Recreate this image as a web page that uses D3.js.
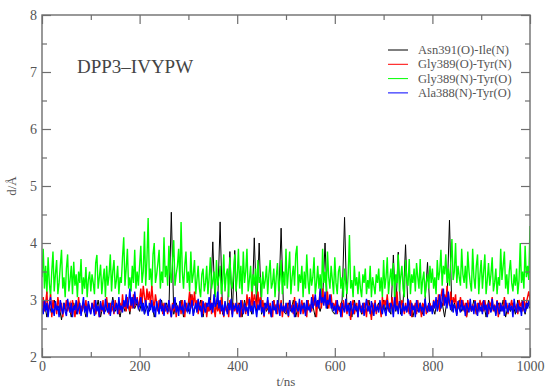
<!DOCTYPE html>
<html><head><meta charset="utf-8">
<script src="https://cdn.jsdelivr.net/npm/d3@7"></script>
<style>
html,body{margin:0;padding:0;background:#fff;}
svg{display:block;font-family:"Liberation Serif","Times New Roman",serif;}
</style></head>
<body>
<svg id="chart" width="546" height="388"></svg>
<script>
// time span (ns); each series is evenly sampled over it
const tSpan = [0, 1000];
const xTicks = [0, 200, 400, 600, 800, 1000];
const yTicks = [2, 3, 4, 5, 6, 7, 8];
const seriesNames = ["Asn391(O)-Ile(N)", "Gly389(O)-Tyr(N)", "Gly389(N)-Tyr(O)", "Ala388(N)-Tyr(O)"];
const seriesColors = ["#000000", "#ff0000", "#00ff00", "#0000ff"];

// every 5 ns
const asnIle = [
2.8,2.95,2.7,2.9,2.75,3.0,2.8,2.9,2.65,2.95,2.8,2.9,2.7,2.95,2.75,3.0,2.8,2.9,2.7,2.95,
2.8,2.9,2.75,3.0,2.7,2.9,2.8,2.95,2.75,3.05,2.8,2.9,2.7,2.95,2.8,3.0,2.75,3.05,2.85,2.95,
2.8,3.0,2.75,2.9,2.8,2.95,2.7,2.9,2.8,3.0,2.75,2.95,2.8,4.54,2.75,2.95,2.8,3.0,2.7,2.95,
2.8,3.1,2.75,2.9,2.8,3.0,2.7,2.95,2.8,2.9,4.02,2.8,2.95,4.37,2.75,2.9,2.8,3.85,2.75,3.87,
2.8,2.95,2.7,3.0,2.8,2.9,2.75,4.09,2.8,4.0,2.75,2.95,2.8,2.9,2.7,3.0,2.8,2.95,4.26,2.8,
2.75,2.95,2.8,3.0,2.7,2.9,2.8,2.95,2.75,3.0,2.8,2.9,2.7,2.95,2.8,3.0,4.0,2.85,3.05,2.8,
2.75,2.95,2.8,3.0,4.45,2.8,2.95,2.7,3.0,2.8,2.9,2.75,2.95,2.8,3.0,2.7,2.9,2.8,2.95,2.75,
3.0,2.8,2.9,2.75,3.79,2.8,3.84,2.75,2.95,3.97,2.8,3.0,2.7,2.9,2.8,2.95,2.75,3.0,3.66,2.8,
2.9,2.75,3.0,2.8,2.95,2.7,3.0,4.4,2.8,2.95,2.75,3.0,2.8,2.9,2.7,2.95,2.8,3.0,2.75,2.9,
2.8,2.95,2.7,3.0,2.8,2.9,2.75,2.95,2.8,3.0,2.7,2.9,2.8,2.95,2.75,3.0,2.8,2.9,2.75,2.95,
2.85];

// every 2.5 ns
const glyOTyrN = [
2.85,3.05,2.8,2.95,3.15,2.75,2.9,3.1,2.7,3.0,2.85,2.95,2.75,3.05,2.9,2.8,2.95,2.7,2.9,2.85,
3.0,2.8,2.9,2.95,2.75,3.0,2.85,2.7,2.9,2.8,3.05,2.75,2.9,2.8,2.95,2.85,3.0,2.75,2.9,2.85,
2.8,2.95,2.85,3.0,2.75,2.9,2.85,2.7,2.95,2.8,3.0,2.75,2.9,3.05,2.85,2.75,2.95,2.8,2.9,2.75,
3.0,2.85,2.9,2.75,2.95,2.8,3.1,2.85,2.95,2.8,3.05,2.9,2.8,3.0,2.85,3.1,2.9,2.95,3.05,2.85,
3.0,3.2,2.95,3.25,3.05,2.9,3.2,3.0,3.15,2.9,3.25,3.0,2.85,3.1,2.95,2.8,3.0,2.85,2.95,2.75,
2.95,2.8,2.9,2.75,3.0,2.85,2.7,2.95,2.8,3.0,2.7,2.9,2.8,2.95,2.75,3.0,2.85,2.7,2.95,2.8,
2.95,3.15,2.85,3.1,2.9,3.15,2.85,3.0,2.75,2.95,2.8,3.0,2.75,2.9,2.95,2.7,2.9,2.8,3.0,2.75,
2.95,2.85,2.7,3.0,2.8,2.9,2.75,3.05,2.85,2.7,2.95,2.8,2.9,2.7,3.0,2.85,2.75,2.95,2.8,2.9,
2.75,2.95,2.85,2.7,3.0,2.8,2.9,2.75,3.1,2.9,3.05,2.8,3.15,2.9,3.1,3.0,2.85,3.15,2.9,3.05,
2.8,3.0,2.7,2.9,2.85,3.0,2.75,2.95,2.8,2.7,3.0,2.85,2.9,2.75,2.95,2.8,3.0,2.7,2.9,2.85,
2.8,2.95,2.7,3.0,2.85,2.9,2.75,3.05,2.8,2.95,2.7,2.9,2.85,3.0,2.75,2.95,2.8,2.7,3.0,2.85,
2.9,2.8,3.1,2.9,3.05,2.7,3.0,2.95,3.15,2.85,3.2,2.95,3.05,2.9,3.15,2.85,3.0,3.1,2.85,2.95,
2.85,3.0,2.75,2.9,2.8,2.95,2.7,3.0,2.85,2.9,2.75,2.95,2.8,2.65,2.9,3.0,2.75,2.85,2.95,2.7,
3.0,2.8,2.9,2.75,2.95,2.85,2.7,3.0,2.8,2.9,2.65,2.95,2.8,3.0,2.75,2.9,2.85,2.95,2.7,3.05,
2.85,3.0,2.9,3.1,2.8,2.95,2.85,3.05,2.75,3.0,2.9,3.15,2.8,2.95,2.85,3.0,2.9,2.75,2.95,2.8,
2.9,2.75,3.0,2.7,2.9,2.85,2.95,2.75,3.0,2.8,2.9,2.7,2.95,2.85,3.0,2.75,2.9,2.8,2.95,2.85,
2.8,3.0,2.9,2.95,2.85,3.1,2.8,3.05,3.2,2.9,3.1,2.95,3.25,3.0,2.9,3.15,2.85,3.05,2.95,3.1,
2.75,2.95,2.85,3.05,2.9,3.0,2.8,2.95,2.7,3.0,2.85,2.95,2.8,2.9,2.85,3.0,2.75,2.95,2.8,3.0,
2.9,2.95,2.8,3.0,2.85,2.9,2.75,2.95,2.9,3.05,2.8,2.9,2.85,3.0,2.7,2.95,2.9,2.9,2.8,3.05,
2.85,2.95,2.75,2.9,2.9,3.0,2.8,2.95,2.85,2.9,2.75,3.0,2.9,2.95,2.8,3.05,2.85,2.95,3.05,3.15,
3.0];

// every 2.5 ns
const glyNTyrO = [
3.4,3.9,3.2,3.6,3.1,3.75,3.3,3.05,3.5,3.85,3.15,3.45,3.7,3.1,3.3,3.6,3.88,3.2,3.4,3.05,
3.55,3.8,3.15,3.35,3.6,3.1,3.67,3.25,3.45,3.05,3.5,3.3,3.72,3.1,3.4,3.2,3.58,3.05,3.35,3.5,
3.15,3.45,3.3,3.1,3.65,3.79,3.2,3.4,3.62,3.1,3.35,3.55,3.05,3.6,3.25,3.45,3.8,3.15,3.5,3.7,
3.2,3.35,3.6,3.1,3.4,3.3,3.75,4.1,3.25,3.55,3.9,3.2,3.4,3.15,3.6,3.3,3.88,3.2,3.5,3.25,
3.6,3.95,3.3,3.5,4.2,3.25,3.7,4.44,3.35,3.55,3.2,3.8,4.0,3.3,3.45,3.65,3.88,3.2,3.5,3.3,
4.1,3.4,3.6,3.25,3.95,3.5,3.3,3.7,4.05,3.25,3.45,3.6,3.9,3.3,4.37,3.5,3.2,3.6,3.85,3.3,
3.5,3.15,3.85,3.3,3.45,3.7,3.1,3.35,3.6,3.2,3.05,3.45,3.55,3.15,3.3,3.6,3.1,3.4,3.75,3.2,
3.35,3.5,3.05,3.7,3.25,3.4,3.6,3.1,3.3,3.8,3.15,3.45,3.55,3.05,3.75,3.3,3.2,3.5,3.8,3.15,
3.4,3.9,3.2,3.6,3.1,3.85,3.3,3.5,3.9,3.15,3.35,3.6,3.05,3.45,3.25,3.55,3.1,3.7,3.3,3.4,
3.05,3.5,3.2,3.35,3.6,3.1,3.45,3.7,3.2,3.3,3.55,3.05,3.4,3.65,3.15,3.35,3.7,3.1,3.5,3.25,
3.9,3.2,3.5,3.85,3.1,3.4,3.6,3.25,3.8,3.95,3.15,3.45,3.3,3.6,3.05,3.5,3.2,3.8,3.35,3.1,
3.55,3.25,3.4,3.75,3.1,3.3,3.6,3.2,3.45,3.05,3.9,3.3,3.5,3.15,3.85,3.4,3.2,3.6,3.35,3.1,
3.75,3.3,3.1,3.5,3.6,3.2,3.4,3.05,3.55,3.3,3.1,3.45,4.14,3.2,3.35,3.05,3.6,3.25,3.4,3.1,
3.5,3.2,3.05,3.45,3.3,3.55,3.1,3.35,3.2,3.6,3.05,3.4,3.25,3.1,3.45,3.3,3.55,3.15,3.4,3.05,
3.7,3.2,3.4,3.75,3.1,3.35,3.55,3.25,3.65,3.05,3.45,3.3,3.8,3.15,3.4,3.6,3.2,3.05,3.7,3.35,
3.25,3.72,3.1,3.45,3.3,3.55,3.15,3.65,3.4,3.2,3.72,3.1,3.35,3.5,3.05,3.3,3.45,3.2,3.6,3.3,
3.55,3.2,3.4,3.1,3.7,3.35,3.5,3.88,3.25,3.6,3.45,3.8,3.3,3.55,3.25,3.65,4.07,3.35,3.5,4.0,
3.3,3.6,3.4,3.25,3.9,3.45,3.3,3.6,3.2,3.85,3.5,3.3,3.15,3.9,3.4,3.2,3.6,3.8,3.1,3.45,
3.7,3.2,3.5,3.8,3.1,3.35,3.65,3.25,3.45,3.75,3.15,3.3,3.55,3.1,3.4,3.25,3.9,3.35,3.6,3.85,
3.2,3.45,3.1,3.5,3.7,3.3,3.15,3.45,3.25,3.55,3.1,3.35,4.0,3.3,3.5,3.2,3.95,3.4,3.6,3.35,
4.3];

// every 2.5 ns
const alaNTyrO = [
2.85,2.75,3.0,2.8,2.95,2.7,2.9,3.05,2.78,2.85,2.72,2.98,2.82,2.9,2.7,3.0,2.85,2.75,2.95,2.8,
2.72,3.02,2.88,2.78,2.95,2.7,2.9,2.82,3.0,2.75,2.85,2.95,2.72,2.88,3.05,2.78,2.9,2.7,2.98,2.82,
2.75,2.95,2.85,2.72,3.0,2.8,2.9,2.7,2.98,2.82,2.88,2.75,3.02,2.85,2.78,2.95,2.72,2.9,3.0,2.8,
2.85,2.95,2.75,3.05,2.82,2.9,2.78,3.0,2.88,3.1,2.85,2.95,3.2,2.9,3.05,2.85,3.15,2.95,3.0,2.85,
2.9,3.05,2.8,2.95,2.75,3.0,2.85,2.72,2.95,2.82,3.0,2.78,2.9,2.7,2.98,2.85,2.75,3.02,2.8,2.9,
2.72,2.95,2.85,2.78,3.0,2.82,2.7,2.92,2.85,3.05,2.78,2.9,2.72,2.98,2.82,2.88,2.75,3.0,2.85,2.8,
2.95,2.75,2.88,3.0,2.72,2.85,2.95,2.78,3.02,2.82,2.9,2.7,2.98,2.85,2.78,2.95,2.88,3.05,2.82,2.95,
2.78,3.1,2.88,2.95,3.15,2.85,3.0,2.8,2.92,2.72,2.98,2.85,2.75,2.95,2.82,3.02,2.7,2.9,2.85,2.95,
2.78,2.92,2.7,3.0,2.85,2.75,2.95,2.82,2.88,2.72,3.02,2.8,2.9,2.75,2.98,2.85,2.7,2.92,2.82,3.0,
2.78,2.88,2.72,2.95,2.85,3.05,2.78,2.9,2.7,2.98,2.82,2.88,2.75,3.0,2.85,2.72,2.95,2.8,2.9,2.78,
2.95,2.82,2.72,3.0,2.85,2.78,2.92,2.7,2.98,2.85,2.8,3.02,2.75,2.9,2.85,2.95,2.72,3.0,2.82,2.88,
2.78,3.05,2.85,2.95,3.1,2.88,3.0,2.85,3.2,2.95,3.05,2.9,3.15,2.85,3.0,2.92,3.1,2.85,2.95,2.8,
2.9,2.75,3.0,2.82,2.88,2.7,2.95,2.85,2.78,3.02,2.8,2.92,2.72,2.98,2.85,2.75,2.95,2.82,2.9,2.7,
3.0,2.85,2.78,2.95,2.72,2.88,3.02,2.8,2.9,2.75,2.98,2.85,2.72,2.95,2.82,2.88,2.78,3.0,2.85,2.75,
2.92,2.8,2.72,3.0,2.85,2.78,2.95,2.88,2.7,3.05,2.82,2.9,2.75,2.98,2.85,2.72,2.95,2.8,2.9,2.78,
3.02,2.85,2.72,2.95,2.82,2.9,2.7,3.0,2.85,2.78,2.95,2.82,2.88,2.72,3.02,2.85,2.78,2.95,2.8,2.9,
2.75,2.98,2.85,3.05,2.8,2.92,3.1,2.85,3.0,3.2,2.9,3.05,2.85,3.15,2.95,2.82,3.0,2.78,2.92,2.85,
2.72,2.98,2.85,2.78,3.0,2.82,2.9,2.72,2.95,2.85,2.78,3.02,2.8,2.9,2.75,2.98,2.85,2.72,2.95,2.82,
2.88,2.75,3.0,2.82,2.92,2.7,2.95,2.85,2.78,3.02,2.82,2.9,2.72,2.98,2.85,2.75,2.95,2.8,2.9,2.72,
3.0,2.85,2.78,2.95,2.82,2.9,2.7,3.02,2.85,2.78,2.95,2.82,2.88,2.72,3.0,2.85,2.78,2.95,2.85,3.0,
2.9];

const seriesValues = [asnIle, glyOTyrN, glyNTyrO, alaNTyrO];
const seriesWidths = [1, 1.4, 1.4, 1.4];
const drawOrder = [0, 2, 1, 3];

const svg = d3.select("#chart");
const m = {left: 42, right: 16, top: 15, bottom: 31};
const W = 546, H = 388;
const x = d3.scaleLinear().domain(tSpan).range([m.left, W - m.right]);
const y = d3.scaleLinear().domain([2, 8]).range([H - m.bottom, m.top]);
const axisCol = "#6e6e6e", textCol = "#555";

svg.append("clipPath").attr("id", "clip").append("rect")
  .attr("x", m.left).attr("y", m.top).attr("width", x.range()[1] - m.left).attr("height", y.range()[0] - m.top);

const g = svg.append("g").attr("clip-path", "url(#clip)");
drawOrder.forEach(k => {
  const vals = seriesValues[k];
  const step = (tSpan[1] - tSpan[0]) / (vals.length - 1);
  const line = d3.line().x((d, i) => x(tSpan[0] + i * step)).y(d => y(d));
  g.append("path").datum(vals).attr("d", line)
    .attr("fill", "none").attr("stroke", seriesColors[k]).attr("stroke-width", seriesWidths[k])
    .attr("stroke-linejoin", "miter");
});

// axes
const minorX = d3.range(100, 1000, 200);
const minorY = d3.range(2.5, 8, 1);
function styleAxis(sel) {
  sel.select(".domain").remove();
  sel.selectAll("line").attr("stroke", axisCol).attr("stroke-width", 1.2);
  sel.selectAll("text").attr("fill", textCol).attr("font-size", 14).attr("font-family", "Liberation Serif, Times New Roman, serif");
}
const yb = y.range()[0], yt = y.range()[1];
svg.append("g").attr("transform", `translate(0,${yb})`)
  .call(d3.axisBottom(x).tickValues(xTicks).tickSize(-9).tickPadding(4).tickFormat(d3.format("d"))).call(styleAxis);
svg.append("g").attr("transform", `translate(0,${yb})`)
  .call(d3.axisBottom(x).tickValues(minorX).tickSize(-5).tickFormat("")).call(styleAxis);
svg.append("g").attr("transform", `translate(0,${yt})`)
  .call(d3.axisTop(x).tickValues(xTicks).tickSize(-9).tickFormat("")).call(styleAxis);
svg.append("g").attr("transform", `translate(0,${yt})`)
  .call(d3.axisTop(x).tickValues(minorX).tickSize(-5).tickFormat("")).call(styleAxis);
svg.append("g").attr("transform", `translate(${m.left},0)`)
  .call(d3.axisLeft(y).tickValues(yTicks).tickSize(-9).tickPadding(5).tickFormat(d3.format("d"))).call(styleAxis);
svg.append("g").attr("transform", `translate(${m.left},0)`)
  .call(d3.axisLeft(y).tickValues(minorY).tickSize(-5).tickFormat("")).call(styleAxis);
svg.append("g").attr("transform", `translate(${x.range()[1]},0)`)
  .call(d3.axisRight(y).tickValues(yTicks).tickSize(-9).tickFormat("")).call(styleAxis);
svg.append("g").attr("transform", `translate(${x.range()[1]},0)`)
  .call(d3.axisRight(y).tickValues(minorY).tickSize(-5).tickFormat("")).call(styleAxis);

svg.append("rect").attr("x", m.left).attr("y", m.top)
  .attr("width", x.range()[1] - m.left).attr("height", y.range()[0] - m.top)
  .attr("fill", "none").attr("stroke", axisCol).attr("stroke-width", 1.4);

// axis titles
svg.append("text").attr("x", (x.range()[0] + x.range()[1]) / 2).attr("y", 386)
  .attr("text-anchor", "middle").attr("fill", textCol).attr("font-size", 13).text("t/ns");
svg.append("text").attr("transform", `translate(16,${(y.range()[0] + y.range()[1]) / 2}) rotate(-90)`)
  .attr("text-anchor", "middle").attr("fill", textCol).attr("font-size", 13).text("d/Å");

// title
svg.append("text").attr("x", 77).attr("y", 73).attr("fill", "#444").attr("font-size", 19).text("DPP3–IVYPW");

// legend
const leg = svg.append("g");
seriesNames.forEach((name, i) => {
  const yy = 54 + i * 14.3;
  leg.append("line").attr("x1", 388).attr("x2", 408).attr("y1", yy - 4).attr("y2", yy - 4)
    .attr("stroke", seriesColors[i]).attr("stroke-width", 1);
  leg.append("text").attr("x", 418).attr("y", yy).attr("fill", textCol).attr("font-size", 12.5).text(name);
});
</script>
</body></html>
